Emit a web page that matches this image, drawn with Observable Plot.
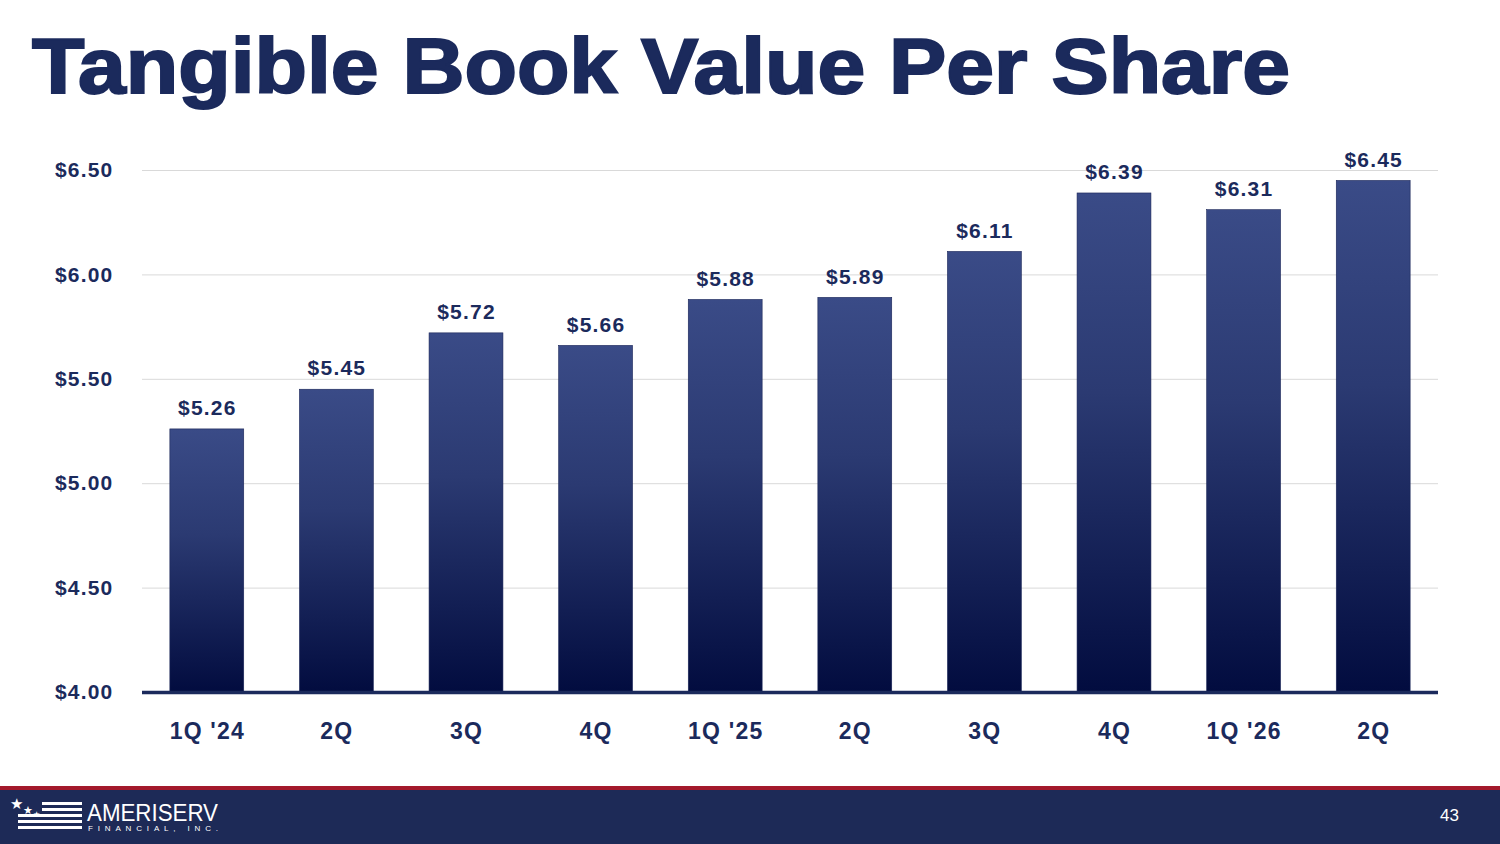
<!DOCTYPE html>
<html>
<head>
<meta charset="utf-8">
<script src="https://cdn.jsdelivr.net/npm/d3@7"></script>
<script src="https://cdn.jsdelivr.net/npm/@observablehq/plot@0.6"></script>
<style>
  html, body { margin: 0; padding: 0; background: #ffffff; }
  body { width: 1500px; height: 844px; position: relative; overflow: hidden; font-family: "Liberation Sans", Arial, sans-serif; }
  #title { position: absolute; left: 0; top: 0; }
  #chart { position: absolute; left: 0; top: 130px; }
  #chart svg text { letter-spacing: 1.2px; }
  #redline { position: absolute; left: 0; top: 786px; width: 1500px; height: 4px; background: #a3192b; }
  #footer { position: absolute; left: 0; top: 790px; width: 1500px; height: 54px; background: #1d2a57; }
  #page { position: absolute; left: 1440px; top: 806px; color: #ffffff; font-size: 17px; font-family: "Liberation Sans", Arial, sans-serif; }
  #logo { position: absolute; left: 0; top: 790px; }
</style>
</head>
<body>
<svg id="title" width="1500" height="120">
  <text x="32" y="93" textLength="1258" lengthAdjust="spacingAndGlyphs" font-family="Liberation Sans, Arial, sans-serif" font-weight="bold" font-size="77" fill="#1b2a5c" stroke="#1b2a5c" stroke-width="2">Tangible Book Value Per Share</text>
</svg>
<div id="chart"></div>
<div id="redline"></div>
<div id="footer"></div>
<svg id="logo" width="260" height="54">
  <text x="10" y="19" fill="#ffffff" font-family="DejaVu Sans, sans-serif" font-size="15">★</text>
  <text x="23" y="24" fill="#ffffff" font-family="DejaVu Sans, sans-serif" font-size="11">★</text>
  <text x="33" y="27" fill="#ffffff" font-family="DejaVu Sans, sans-serif" font-size="8">★</text>
  <rect x="42" y="12" width="40" height="3" fill="#ffffff"/>
  <rect x="42" y="18" width="40" height="3" fill="#ffffff"/>
  <rect x="18" y="24" width="64" height="3" fill="#ffffff"/>
  <rect x="18" y="30" width="64" height="3" fill="#ffffff"/>
  <rect x="18" y="36" width="64" height="3" fill="#ffffff"/>
  <text x="87" y="31" fill="#ffffff" font-family="Liberation Sans Narrow, Liberation Sans, Arial, sans-serif" font-size="24" textLength="131" lengthAdjust="spacingAndGlyphs">AMERISERV</text>
  <text x="88" y="41" fill="#ffffff" font-family="Liberation Sans, Arial, sans-serif" font-size="8" textLength="130" lengthAdjust="spacing">FINANCIAL, INC.</text>
</svg>
<div id="page">43</div>
<script>
const labels = ["1Q '24", "2Q", "3Q", "4Q", "1Q '25", "2Q", "3Q", "4Q", "1Q '26", "2Q"];
const values = [5.26, 5.45, 5.72, 5.66, 5.88, 5.89, 6.11, 6.39, 6.31, 6.45];
const yTicks = [4.0, 4.5, 5.0, 5.5, 6.0, 6.5];

const data = labels.map((label, i) => ({ i, label, value: values[i] }));
const navy = "#1b2a5c";
const money = v => "$" + v.toFixed(2);

const chart = Plot.plot({
  width: 1500,
  height: 640,
  marginLeft: 142,
  marginRight: 62,
  marginTop: 40,
  marginBottom: 78,
  style: { fontFamily: "Liberation Sans, Arial, sans-serif", color: navy, background: "transparent" },
  x: { type: "band", domain: d3.range(labels.length), paddingInner: 0.43, paddingOuter: 0.215, round: false },
  y: { domain: [4, 6.5] },
  marks: [
    Plot.gridY(yTicks, { stroke: "#d9d9d9", strokeOpacity: 1, strokeWidth: 1 }),
    Plot.barY(data, { x: "i", y1: 4, y2: "value", fill: "url(#barGrad)", stroke: "#1a2558", strokeWidth: 0.6 }),
    Plot.ruleY([4], { stroke: navy, strokeWidth: 3.5 }),
    Plot.text(data, { x: "i", y: "value", text: d => money(d.value), dy: -21, fontSize: 21, fontWeight: "bold", fill: navy }),
    Plot.axisX({ tickSize: 0, tickPadding: 30, tickFormat: i => labels[i], fontSize: 23, fontWeight: "bold", label: null }),
    Plot.axisY(yTicks, { tickSize: 0, tickPadding: 29, tickFormat: money, fontSize: 21, fontWeight: "bold", label: null })
  ]
});

const defs = document.createElementNS("http://www.w3.org/2000/svg", "defs");
defs.innerHTML = `<linearGradient id="barGrad" x1="0" y1="0" x2="0" y2="1">
  <stop offset="0" stop-color="#3a4b87"/>
  <stop offset="0.4" stop-color="#2b3a72"/>
  <stop offset="1" stop-color="#020c3f"/>
</linearGradient>`;
chart.prepend(defs);
document.getElementById("chart").appendChild(chart);
</script>
</body>
</html>
